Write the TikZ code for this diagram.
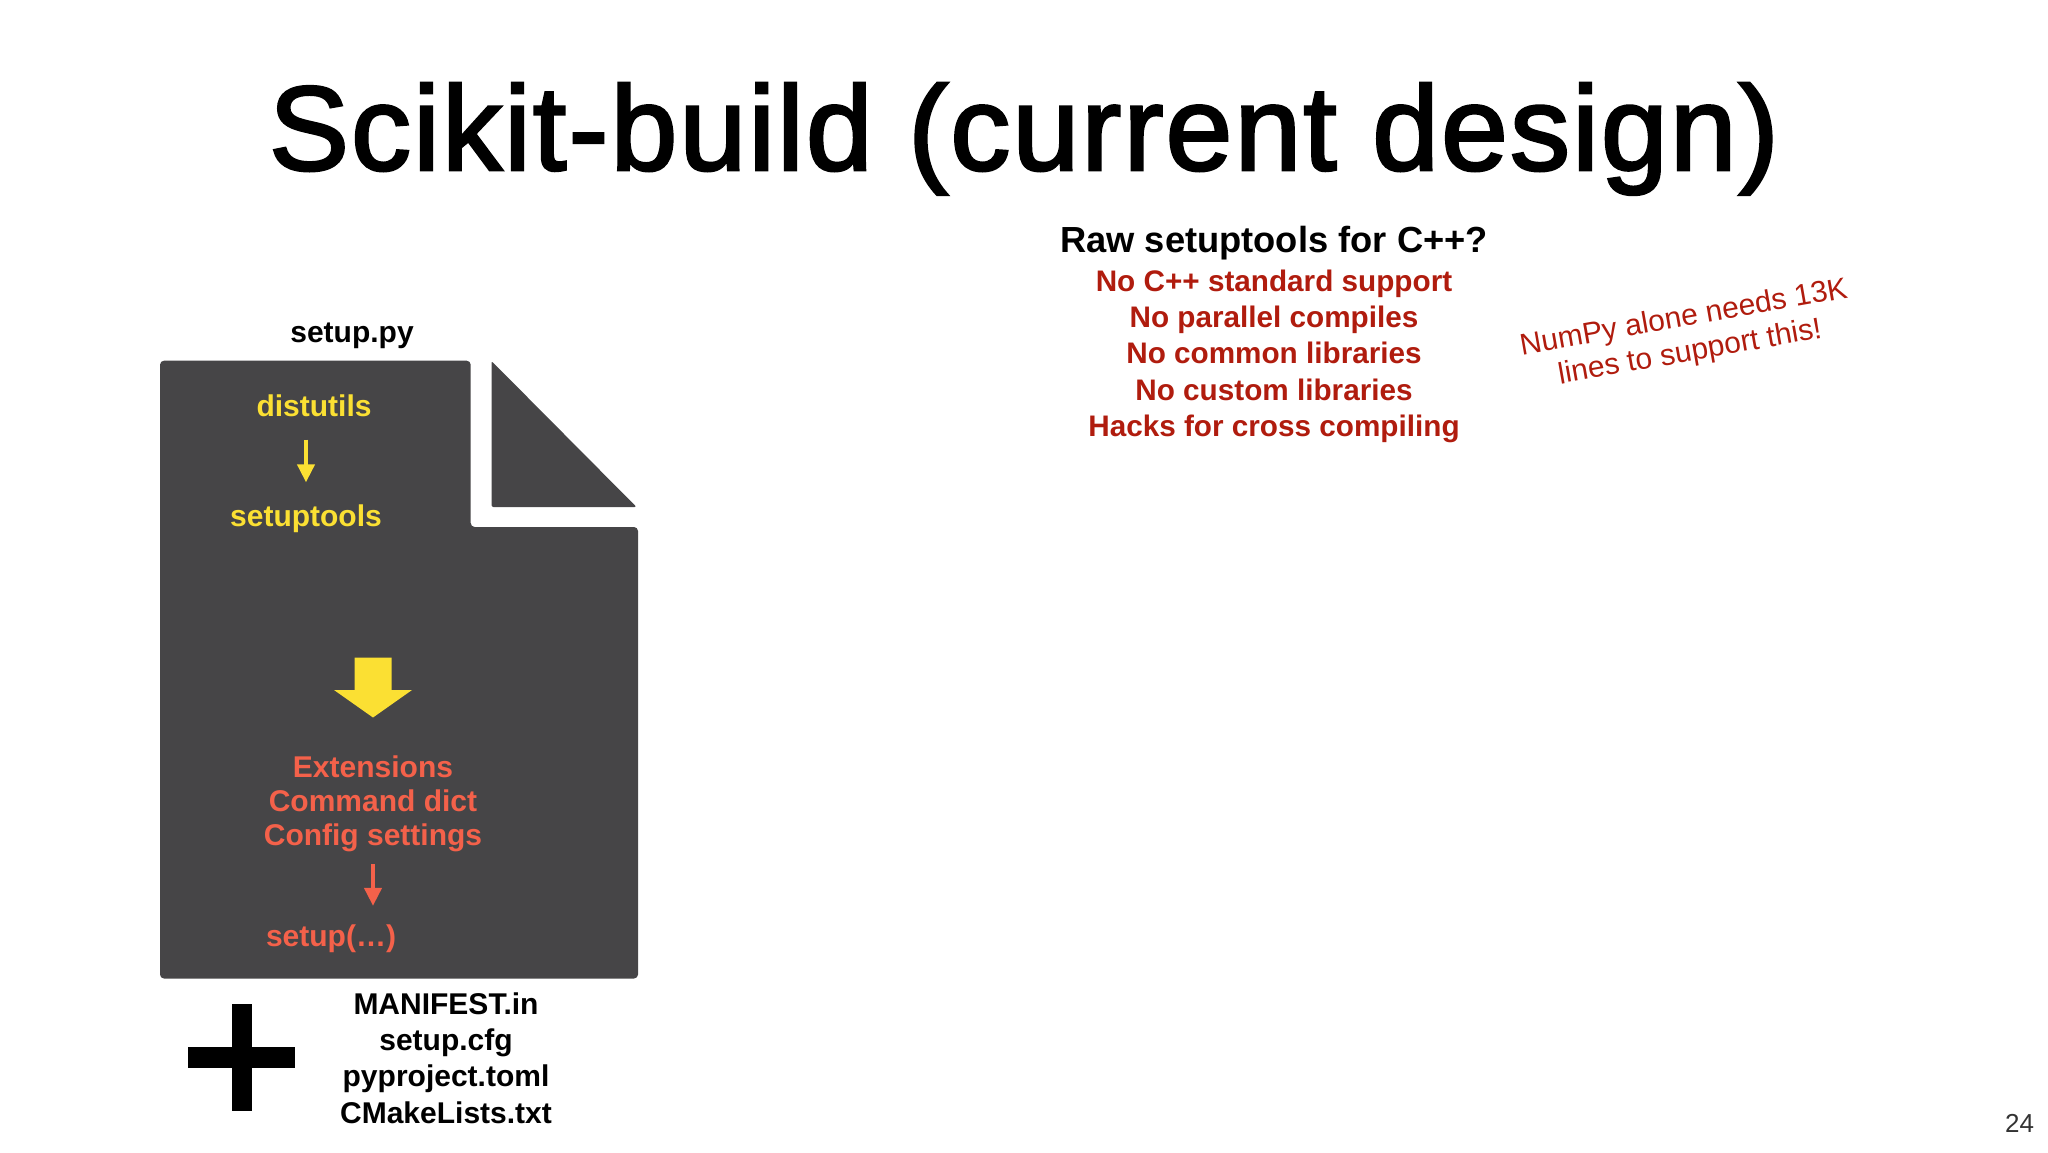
\documentclass[tikz,border=0pt]{standalone}
\usepackage{fontspec}
\setmainfont{Liberation Sans}
\newfontfamily\titlefont[FakeBold=2.2,LetterSpace=1.8]{Liberation Sans}
\usetikzlibrary{arrows.meta}
\definecolor{filegray}{HTML}{464547}
\definecolor{fileyellow}{HTML}{FBE033}
\definecolor{filecoral}{HTML}{F4614A}
\definecolor{noisered}{HTML}{B01C0E}
\tikzset{
  label/.style={inner sep=0pt,anchor=base,align=center,font=\bfseries\fontsize{15}{18}\selectfont},
  yellowarrow/.style={-{Triangle[length=9pt,width=8.5pt]},draw=fileyellow,line width=2pt},
  coralarrow/.style={-{Triangle[length=9pt,width=8.5pt]},draw=filecoral,line width=2pt}
}
\begin{document}
\begin{tikzpicture}[x=0.5pt,y=-0.5pt]
\useasboundingbox (0,0) rectangle (2048,1152);

\node at (1024,170) [inner sep=0pt,anchor=base,font=\titlefont\fontsize{60}{72}\selectfont] (title) {Scikit-build (current design)};

% the file
\fill[filegray,rounded corners=2pt] (160,360.7) -- (470.7,360.7) -- (470.7,527) -- (638,527) -- (638,978.5) -- (160,978.5) -- cycle;
\fill[filegray,rounded corners=1pt] (491.5,361) -- (636.5,507) -- (491.5,507) -- cycle;
\node at (352,342) [label] (setuppy) {setup.py};

\node at (314,416.5) [label,text=fileyellow] (distutils) {distutils};
\node at (306,526.5) [label,text=fileyellow] (setuptools) {setuptools};
\draw[yellowarrow] (distutils.south -| setuptools.north) ++(0,22.5) -- ([yshift=11pt]setuptools.north);

\fill[fileyellow] (354.5,657.5) -- (391.5,657.5) -- (391.5,690) -- (412,690) -- (373,717.5) -- (334,690) -- (354.5,690) -- cycle;

\node at (373,845.3) [label,text=filecoral,font=\bfseries\fontsize{15}{17}\selectfont] (config) {Extensions\\Command dict\\Config settings};
\node at (331,946) [label,text=filecoral] (setupcall) {setup(…)};
\draw[coralarrow] (config.south) ++(0,12.2) -- ([yshift=9pt]config.south |- setupcall.north);

% plus and the other files
\fill[black] (188,1047) rectangle (295,1068);
\fill[black] (231.5,1004) rectangle (252,1111);
\node at (446,1123) [label,font=\bfseries\fontsize{15}{18.05}\selectfont] (others) {MANIFEST.in\\setup.cfg\\pyproject.toml\\CMakeLists.txt};

% setuptools notes
\node at (1274,252.5) [label,font=\bfseries\fontsize{18.15}{22}\selectfont] (rawhead) {Raw setuptools for C++?};
\node at (1274,436.3) [label,text=noisered,font=\bfseries\fontsize{14.85}{18.1}\selectfont] (rawlist) {No C++ standard support\\No parallel compiles\\No common libraries\\No custom libraries\\Hacks for cross compiling};
\node at (1687,336) [inner sep=0pt,rotate=10,align=center,text=noisered,font=\fontsize{15}{17.5}\selectfont] (numpy) {NumPy alone needs 13K\\lines to support this!};

\node at (2019.5,1123) [inner sep=0pt,text=black!80,font=\fontsize{13}{15}\selectfont] (pagenum) {24};
\end{tikzpicture}
\end{document}
